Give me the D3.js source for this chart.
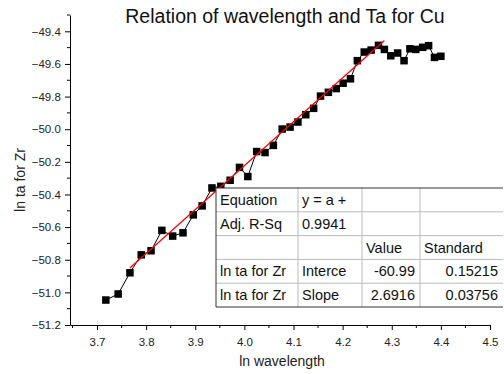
<!DOCTYPE html>
<html>
<head>
<meta charset="utf-8">
<script src="https://cdn.jsdelivr.net/npm/d3@7"></script>
<style>
  body { margin: 0; background: #fff; }
  svg { font-family: "Liberation Sans", Arial, sans-serif; }
</style>
</head>
<body>
<svg id="chart" width="504" height="374"></svg>
<script>
// ln wavelength vs ln ta, Cu

let lnWavelength = [3.718, 3.743, 3.767, 3.79, 3.81, 3.832, 3.854, 3.875, 3.896, 3.914,
  3.934, 3.952, 3.971, 3.99, 4.007, 4.025, 4.042, 4.059, 4.077, 4.093,
  4.109, 4.125, 4.141, 4.155, 4.171, 4.187, 4.201, 4.216, 4.23, 4.244,
  4.258, 4.273, 4.285, 4.298, 4.312, 4.325, 4.337, 4.349, 4.363, 4.375,
  4.387, 4.4]
let lnTa = [-51.047, -51.01, -50.88, -50.77, -50.745, -50.62, -50.655, -50.635, -50.525, -50.47,
  -50.36, -50.35, -50.313, -50.234, -50.29, -50.137, -50.143, -50.099, -49.999, -49.987,
  -49.956, -49.911, -49.872, -49.797, -49.774, -49.751, -49.718, -49.691, -49.58, -49.527,
  -49.515, -49.486, -49.511, -49.55, -49.533, -49.58, -49.507, -49.511, -49.498, -49.488,
  -49.56, -49.553]

// linear fit y = a + b*x over the fitted range
let fitA = -60.99
let fitB = 2.6916
let fitRange = [3.767, 4.285]

let xTicks = [3.7, 3.8, 3.9, 4.0, 4.1, 4.2, 4.3, 4.4, 4.5]
let yTicks = [-51.2, -51.0, -50.8, -50.6, -50.4, -50.2, -50.0, -49.8, -49.6, -49.4]

let tableRows = [
  ['Equation', 'y = a +', '', ''],
  ['Adj. R-Sq', '0.9941', '', ''],
  ['', '', 'Value', 'Standard'],
  ['ln ta for Zr', 'Interce', '-60.99', '0.15215'],
  ['ln ta for Zr', 'Slope', '2.6916', '0.03756']
]

let svg = d3.select('#chart')

let x = d3.scaleLinear().domain([3.645, 4.5]).range([70, 490])
let y = d3.scaleLinear().domain([-51.2, -49.3]).range([325, 15])

// title
svg.append('text')
  .attr('x', 285)
  .attr('y', 23)
  .attr('text-anchor', 'middle')
  .style('font-size', '19.5px')
  .style('fill', '#111')
  .text('Relation of wavelength and Ta for Cu')

// axes
let xAxis = svg.append('g')
  .attr('transform', 'translate(0,325)')
  .call(d3.axisBottom(x).tickValues(xTicks).tickFormat(d3.format('.1f')).tickSize(5).tickSizeOuter(0))
xAxis.append('g')
  .selectAll('line')
  .data(d3.range(3.65, 4.5, 0.1))
  .join('line')
  .attr('x1', d => x(d))
  .attr('x2', d => x(d))
  .attr('y1', 0)
  .attr('y2', 3)
  .style('stroke', 'black')

let yAxis = svg.append('g')
  .attr('transform', 'translate(70,0)')
  .call(d3.axisLeft(y).tickValues(yTicks).tickFormat(d3.format('.1f')).tickSize(5).tickSizeOuter(0))
yAxis.append('g')
  .selectAll('line')
  .data(d3.range(-51.1, -49.25, 0.2))
  .join('line')
  .attr('x1', 0)
  .attr('x2', -3)
  .attr('y1', d => y(d))
  .attr('y2', d => y(d))
  .style('stroke', 'black')

svg.selectAll('.tick text')
  .style('font-size', '11.5px')
  .style('font-family', '"Liberation Sans", Arial, sans-serif')
  .style('fill', '#222')
xAxis.selectAll('.tick text').attr('dy', '1.15em')
yAxis.selectAll('.tick text').attr('dx', '-0.1em')
svg.selectAll('.domain').style('stroke', 'black')

// axis titles
svg.append('text')
  .attr('x', 282)
  .attr('y', 366)
  .attr('text-anchor', 'middle')
  .style('font-size', '14px')
  .style('fill', '#222')
  .text('ln wavelength')

svg.append('text')
  .attr('transform', 'translate(25,180) rotate(-90)')
  .attr('text-anchor', 'middle')
  .style('font-size', '14px')
  .style('fill', '#222')
  .text('ln ta for Zr')

// data line + squares
let points = d3.zip(lnWavelength, lnTa)

svg.append('path')
  .datum(points)
  .attr('d', d3.line(d => x(d[0]), d => y(d[1])))
  .style('stroke', 'black')
  .style('stroke-width', 1)
  .style('fill', 'none')

svg.append('g')
  .selectAll('rect')
  .data(points)
  .join('rect')
  .attr('x', d => x(d[0]) - 3.75)
  .attr('y', d => y(d[1]) - 3.75)
  .attr('width', 7.5)
  .attr('height', 7.5)
  .style('fill', 'black')

// fit line
svg.append('path')
  .datum(fitRange.map(v => [v, fitA + fitB * v]))
  .attr('d', d3.line(d => x(d[0]), d => y(d[1])))
  .style('stroke', 'red')
  .style('stroke-width', 1.2)
  .style('fill', 'none')

// stats table
let colX = [216, 298, 362, 420, 503]
let rowTop = 188
let rowH = 23.8
let table = svg.append('g')

table.append('rect')
  .attr('x', colX[0])
  .attr('y', rowTop)
  .attr('width', colX[4] - colX[0])
  .attr('height', rowH * tableRows.length)
  .style('fill', 'white')

table.selectAll('line.h')
  .data(d3.range(1, tableRows.length))
  .join('line')
  .attr('class', 'h')
  .attr('x1', colX[0])
  .attr('x2', colX[4])
  .attr('y1', d => rowTop + d * rowH)
  .attr('y2', d => rowTop + d * rowH)
  .style('stroke', '#bbb')

table.selectAll('line.v')
  .data([1, 2, 3])
  .join('line')
  .attr('class', 'v')
  .attr('x1', d => colX[d])
  .attr('x2', d => colX[d])
  .attr('y1', rowTop)
  .attr('y2', rowTop + rowH * tableRows.length)
  .style('stroke', '#bbb')

table.append('path')
  .attr('d', `M${colX[4]},${rowTop}H${colX[0]}V${rowTop + rowH * tableRows.length}H${colX[4]}`)
  .style('stroke', '#333')
  .style('fill', 'none')

tableRows.forEach((row, r) => {
  row.forEach((cell, c) => {
    let right = c >= 2 && r >= 3
    table.append('text')
      .attr('x', right ? colX[c + 1] - 5 : colX[c] + 4)
      .attr('y', rowTop + r * rowH + rowH / 2 + 5)
      .attr('text-anchor', right ? 'end' : 'start')
      .style('font-size', '14.5px')
      .style('fill', '#111')
      .text(cell)
  })
})
</script>
</body>
</html>
